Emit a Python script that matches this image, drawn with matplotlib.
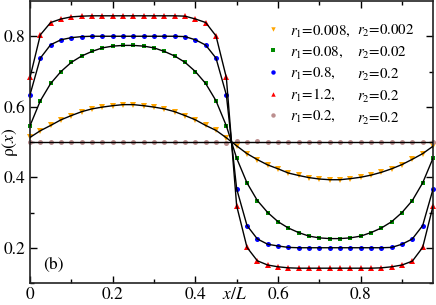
import matplotlib
matplotlib.use("Agg")
import matplotlib.pyplot as plt
import numpy as np
from matplotlib.lines import Line2D

plt.rcParams["font.family"] = ["STIXGeneral", "DejaVu Serif"]
plt.rcParams["mathtext.fontset"] = "stix"

# lattice positions x/L (L = 40)
x_pos = [i / 40 for i in range(40)]

rho_a = [0.513, 0.532, 0.547, 0.563, 0.575, 0.586, 0.594, 0.599, 0.603, 0.606,
         0.606, 0.603, 0.599, 0.594, 0.586, 0.575, 0.563, 0.547, 0.533, 0.512,
         0.489, 0.467, 0.450, 0.435, 0.424, 0.412, 0.405, 0.399, 0.395, 0.393,
         0.393, 0.396, 0.400, 0.406, 0.414, 0.424, 0.436, 0.451, 0.467, 0.488]
rho_b = [0.546, 0.617, 0.666, 0.700, 0.726, 0.744, 0.757, 0.767, 0.772, 0.774,
         0.774, 0.772, 0.767, 0.757, 0.744, 0.726, 0.700, 0.666, 0.617, 0.546,
         0.454, 0.384, 0.334, 0.300, 0.274, 0.256, 0.243, 0.233, 0.228, 0.226,
         0.226, 0.228, 0.233, 0.243, 0.256, 0.274, 0.300, 0.334, 0.384, 0.454]
rho_c = [0.634, 0.738, 0.776, 0.790, 0.796, 0.799, 0.800, 0.800, 0.800, 0.800,
         0.800, 0.800, 0.800, 0.800, 0.800, 0.799, 0.790, 0.775, 0.738, 0.634,
         0.367, 0.263, 0.225, 0.210, 0.205, 0.201, 0.200, 0.200, 0.200, 0.200,
         0.200, 0.200, 0.200, 0.200, 0.200, 0.201, 0.210, 0.225, 0.263, 0.366]
rho_d = [0.683, 0.804, 0.839, 0.849, 0.855, 0.857, 0.858, 0.858, 0.858, 0.858,
         0.858, 0.858, 0.858, 0.858, 0.858, 0.857, 0.849, 0.839, 0.801, 0.683,
         0.319, 0.201, 0.163, 0.151, 0.146, 0.143, 0.142, 0.142, 0.142, 0.142,
         0.142, 0.142, 0.142, 0.142, 0.143, 0.146, 0.151, 0.162, 0.201, 0.318]
rho_e = [0.500, 0.500, 0.500, 0.500, 0.500, 0.500, 0.500, 0.500, 0.500, 0.500,
         0.500, 0.500, 0.500, 0.500, 0.500, 0.500, 0.500, 0.500, 0.500, 0.497,
         0.503, 0.499, 0.504, 0.501, 0.501, 0.500, 0.500, 0.500, 0.500, 0.500,
         0.500, 0.500, 0.500, 0.500, 0.500, 0.500, 0.500, 0.500, 0.500, 0.500]
# black curves: same as the data except the flat r1 = r2 profile
line_e = [0.5] * 40

r1_labels = [r"$r_1$=0.008,", r"$r_1$=0.08,", r"$r_1$=0.8,", r"$r_1$=1.2,", r"$r_1$=0.2,"]
r2_labels = [r"$r_2$=0.002", r"$r_2$=0.02", r"$r_2$=0.2", r"$r_2$=0.2", r"$r_2$=0.2"]
colors = ["#FFA500", "#008B00", "#0000FF", "#FF0000", "#BC8F8F"]
markers = ["v", "s", "o", "^", "o"]

fig = plt.figure(figsize=(4.36, 3.05), dpi=100)
ax = fig.add_axes([30 / 436, 22 / 305, 403 / 436, 282 / 305])

series = [rho_a, rho_b, rho_c, rho_d, rho_e]
lines = [rho_a, rho_b, rho_c, rho_d, line_e]
sizes = [4, 3.4, 3.6, 4, 3.6]
handles = []
for rho, ln, c, m, s in zip(series, lines, colors, markers, sizes):
    ax.plot(x_pos, rho, linestyle="none", marker=m, color=c, markersize=s,
            markeredgewidth=0, clip_on=False, zorder=2)
    ax.plot(x_pos, ln, color="k", linewidth=1.0, zorder=3)
    handles.append(Line2D([], [], linestyle="none", marker=m, color=c,
                          markersize=3.2, markeredgewidth=0))

# r2 values go in a second legend column with empty handles
blank = [Line2D([], [], linestyle="none") for _ in r2_labels]
ax.legend(handles + blank, r1_labels + r2_labels, ncol=2, frameon=False,
          fontsize=10.85, loc="upper left", bbox_to_anchor=(0.5663, 0.9606),
          handlelength=0.6, handletextpad=0.81, labelspacing=0.39,
          columnspacing=-1.012, borderpad=0.2)

ax.set_xlim(0, 0.975)
ax.set_ylim(0.1, 0.9)
ax.set_xticks([0, 0.2, 0.4, 0.6, 0.8])
ax.set_xticklabels(["0", "0.2", "0.4", "0.6", "0.8"])
ax.set_xticks([0.1, 0.3, 0.5, 0.7, 0.9], minor=True)
ax.set_yticks([0.2, 0.4, 0.6, 0.8])
ax.set_yticklabels(["0.2", "0.4", "0.6", "0.8"])
ax.set_yticks([0.1, 0.3, 0.5, 0.7], minor=True)
ax.tick_params(which="both", direction="in", top=True, right=True,
               labelsize=12.5, pad=3)
ax.tick_params(which="major", length=5, width=1)
ax.tick_params(which="minor", length=3, width=1)
for sp in ax.spines.values():
    sp.set_linewidth(1.2)
    sp.set_color("#222222")

ax.set_xlabel(r"$x/L$", fontsize=12.5)
ax.xaxis.set_label_coords(0.506, -0.043)
ax.xaxis.label.set_va("center")
ax.set_ylabel(r"ρ($x$)", fontsize=12.5)
ax.yaxis.set_label_coords(-0.05, 0.5)
ax.yaxis.label.set_va("center")

ax.text(0.032, 0.064, "(b)", transform=ax.transAxes, fontsize=12.5,
        ha="left", va="center")

fig.savefig("out.png", dpi=100)
